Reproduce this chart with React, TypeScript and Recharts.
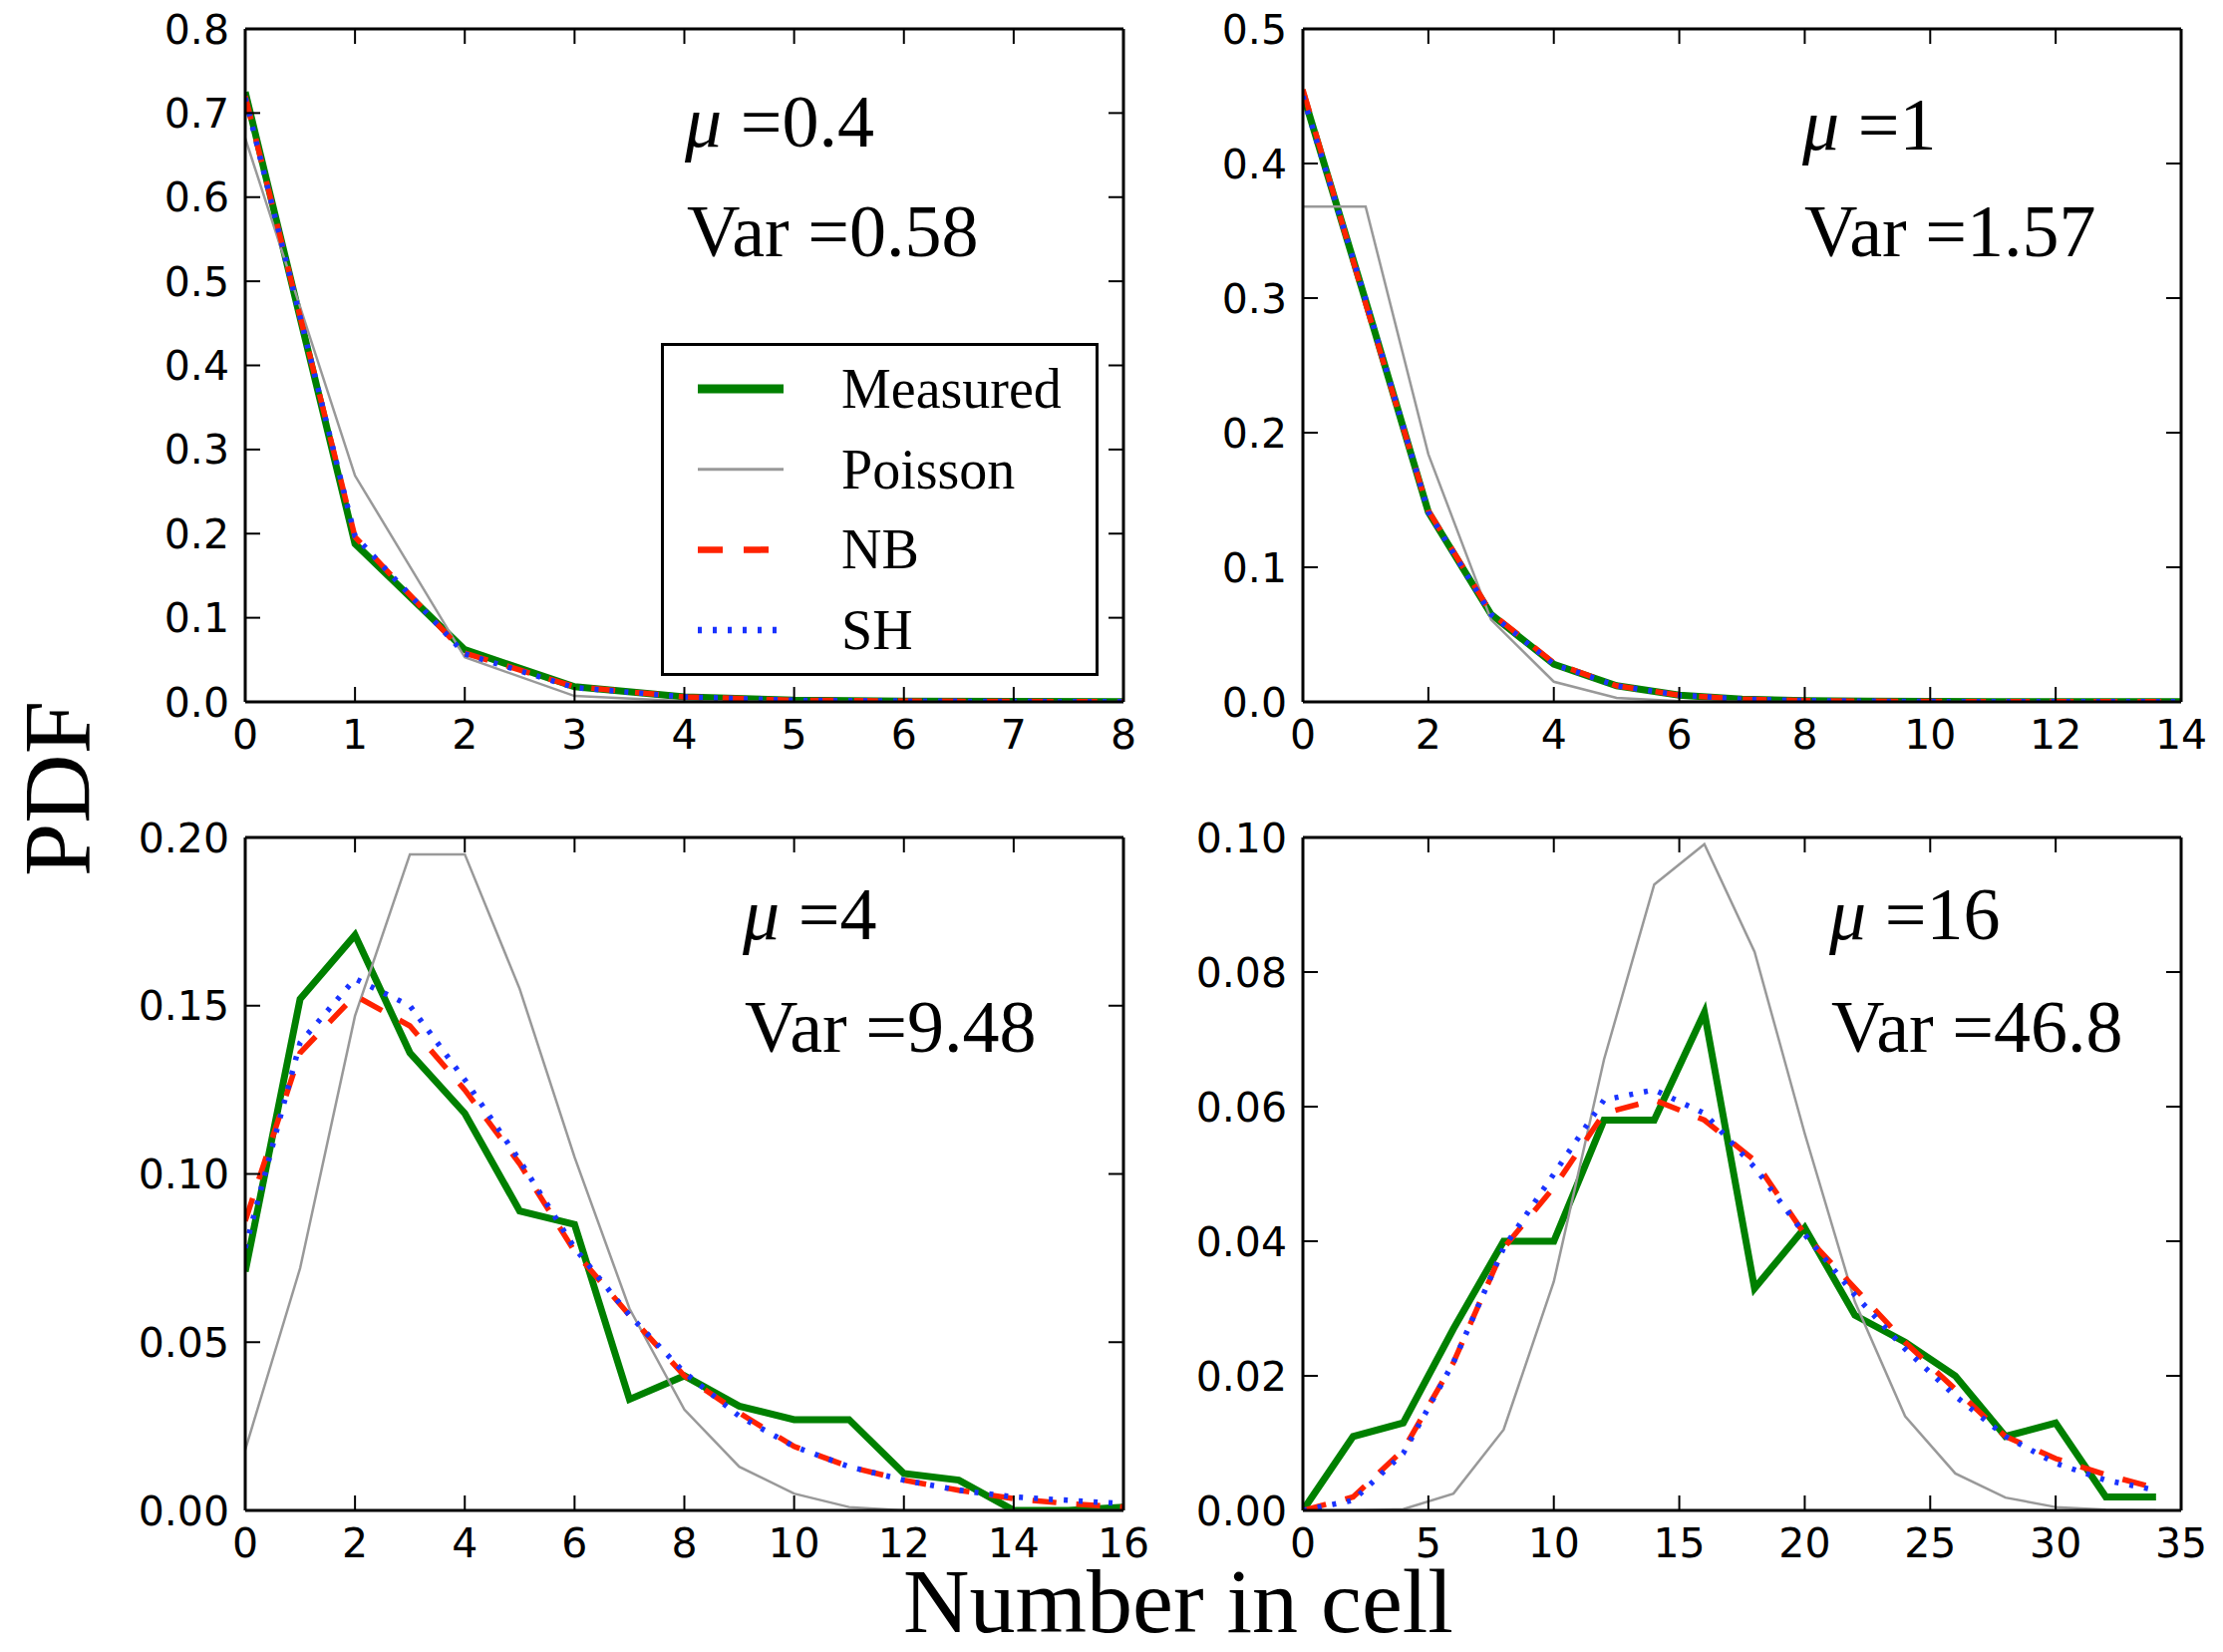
import React from 'react';
import { LineChart, Line, XAxis, YAxis, Legend } from 'recharts';

// ---- data ----

// top left: mu = 0.4
const p1X = [0, 1, 2, 3, 4, 5, 6, 7, 8];
const p1Measured = [0.725, 0.188, 0.062, 0.018, 0.006, 0.002, 0.001, 0.0005, 0.0003];
const p1Poisson = [0.67, 0.269, 0.053, 0.007, 0.001, 0, 0, 0, 0];
const p1NB = [0.72, 0.196, 0.058, 0.018, 0.006, 0.002, 0.001, 0.0005, 0.0003];
const p1SH = [0.718, 0.197, 0.057, 0.017, 0.006, 0.002, 0.001, 0.0005, 0.0003];

// top right: mu = 1
const p2X = [0, 1, 2, 3, 4, 5, 6, 7, 8, 9, 10, 11, 12, 13, 14];
const p2Measured = [0.452, 0.298, 0.141, 0.065, 0.028, 0.012, 0.005, 0.002, 0.001, 0.0005, 0.0003, 0.0002, 0.0001, 0.0001, 0.0001];
const p2Poisson = [0.368, 0.368, 0.184, 0.061, 0.015, 0.003, 0.0005, 0.0001, 0, 0, 0, 0, 0, 0, 0];
const p2NB = [0.455, 0.296, 0.142, 0.066, 0.029, 0.012, 0.005, 0.002, 0.001, 0.0005, 0.0003, 0.0002, 0.0001, 0.0001, 0.0001];
const p2SH = [0.45, 0.299, 0.141, 0.065, 0.028, 0.012, 0.005, 0.002, 0.001, 0.0005, 0.0003, 0.0002, 0.0001, 0.0001, 0.0001];

// bottom left: mu = 4
const p3X = [0, 1, 2, 3, 4, 5, 6, 7, 8, 9, 10, 11, 12, 13, 14, 15, 16];
const p3Measured = [0.071, 0.152, 0.171, 0.136, 0.118, 0.089, 0.085, 0.033, 0.04, 0.031, 0.027, 0.027, 0.011, 0.009, 0, 0, 0.001];
const p3Poisson = [0.018, 0.072, 0.147, 0.195, 0.195, 0.155, 0.105, 0.06, 0.03, 0.013, 0.005, 0.001, 0, 0, 0, 0, 0];
const p3NB = [0.086, 0.136, 0.153, 0.144, 0.125, 0.103, 0.077, 0.058, 0.04, 0.029, 0.019, 0.013, 0.009, 0.006, 0.0035, 0.002, 0.001];
const p3SH = [0.078, 0.139, 0.158, 0.15, 0.128, 0.104, 0.078, 0.058, 0.041, 0.028, 0.019, 0.013, 0.009, 0.006, 0.004, 0.003, 0.002];

// bottom right: mu = 16
const p4X = [0, 2, 4, 6, 8, 10, 12, 14, 16, 18, 20, 22, 24, 26, 28, 30, 32, 34];
const p4Measured = [0, 0.011, 0.013, 0.027, 0.04, 0.04, 0.058, 0.058, 0.074, 0.033, 0.042, 0.029, 0.025, 0.02, 0.011, 0.013, 0.002, 0.002];
const p4Poisson = [0, 0, 0.0002, 0.0025, 0.012, 0.034, 0.067, 0.093, 0.099, 0.083, 0.056, 0.031, 0.014, 0.0055, 0.0019, 0.0005, 0.0001, 0];
const p4NB = [0, 0.002, 0.009, 0.022, 0.039, 0.048, 0.059, 0.061, 0.058, 0.052, 0.041, 0.033, 0.025, 0.018, 0.011, 0.0077, 0.0053, 0.0033];
const p4SH = [0, 0.0015, 0.0085, 0.022, 0.039, 0.05, 0.061, 0.0625, 0.059, 0.051, 0.041, 0.032, 0.024, 0.017, 0.011, 0.007, 0.0045, 0.003];

const p1XTicks = [0, 1, 2, 3, 4, 5, 6, 7, 8];
const p1YTicks = [0, 0.1, 0.2, 0.3, 0.4, 0.5, 0.6, 0.7, 0.8];
const p2XTicks = [0, 2, 4, 6, 8, 10, 12, 14];
const p2YTicks = [0, 0.1, 0.2, 0.3, 0.4, 0.5];
const p3XTicks = [0, 2, 4, 6, 8, 10, 12, 14, 16];
const p3YTicks = [0, 0.05, 0.1, 0.15, 0.2];
const p4XTicks = [0, 5, 10, 15, 20, 25, 30, 35];
const p4YTicks = [0, 0.02, 0.04, 0.06, 0.08, 0.1];

const muLabels = ['0.4', '1', '4', '16'];
const varLabels = ['0.58', '1.57', '9.48', '46.8'];

// ---- styling ----

const SERIES = [
    { key: 'measured', name: 'Measured', color: '#008000', width: 7, dash: undefined },
    { key: 'poisson', name: 'Poisson', color: '#999999', width: 2.5, dash: undefined },
    { key: 'nb', name: 'NB', color: '#ff2200', width: 5.5, dash: '24 20' },
    { key: 'sh', name: 'SH', color: '#1a33ff', width: 5.5, dash: '4 11' },
];

const PLOT_W = 881;
const PLOT_H = 675;
const PAD_L = 200;
const PAD_T = 40;
const PAD_R = 40;
const PAD_B = 80;
const TICK = 15;

const SERIF = '"Liberation Serif", "Times New Roman", serif';
const SANS = '"DejaVu Sans", sans-serif';

const axisLine = { stroke: '#000', strokeWidth: 3 };
const tickLine = { stroke: '#000', strokeWidth: 2 };
const tickText = { fill: '#000', fontSize: 41, fontFamily: SANS };
const noLabel = () => '';

const renderLegend = () => (
    <svg width={439} height={334}>
        <rect x={1.5} y={1.5} width={436} height={331} fill="#fff" stroke="#000" strokeWidth={3} />
        {SERIES.map((s, i) => {
            const cy = 46 + i * 80.7;
            return (
                <g key={s.key}>
                    <line
                        x1={37}
                        x2={123}
                        y1={cy}
                        y2={cy}
                        stroke={s.color}
                        strokeWidth={s.key === 'measured' ? 9 : s.key === 'poisson' ? 3 : 6.5}
                        strokeDasharray={s.key === 'nb' ? '25 21' : s.dash}
                    />
                    <text x={181} y={cy + 19} fontFamily={SERIF} fontSize={56} fill="#000">
                        {s.name}
                    </text>
                </g>
            );
        })}
    </svg>
);

type PanelProps = {
    left: number;
    top: number;
    x: number[];
    measured: number[];
    poisson: number[];
    nb: number[];
    sh: number[];
    xTicks: number[];
    yTicks: number[];
    digits: number;
    legend?: { left: number; top: number };
};

const Panel = ({ left, top, x, measured, poisson, nb, sh, xTicks, yTicks, digits, legend }: PanelProps) => {
    const rows = x.map((v, i) => ({ x: v, measured: measured[i], poisson: poisson[i], nb: nb[i], sh: sh[i] }));
    const xDomain = [xTicks[0], xTicks[xTicks.length - 1]];
    const yDomain = [yTicks[0], yTicks[yTicks.length - 1]];
    const originX = left - PAD_L;
    const originY = top - PAD_T;

    return (
        <div style={{ position: 'absolute', left: originX, top: originY }}>
            <LineChart
                width={PLOT_W + PAD_L + PAD_R}
                height={PLOT_H + PAD_T + PAD_B}
                data={rows}
                margin={{ top: PAD_T - 1, right: PAD_R - 1, bottom: 0, left: 0 }}
            >
                <XAxis
                    dataKey="x"
                    type="number"
                    domain={xDomain}
                    ticks={xTicks}
                    allowDataOverflow
                    interval={0}
                    height={PAD_B}
                    axisLine={axisLine}
                    tickLine={tickLine}
                    tickSize={-TICK}
                    tickMargin={TICK + 18}
                    tick={tickText}
                />
                {/* mirrored axes: top and right spines with inward ticks, no labels */}
                <XAxis
                    xAxisId="top"
                    orientation="top"
                    dataKey="x"
                    type="number"
                    domain={xDomain}
                    ticks={xTicks}
                    allowDataOverflow
                    interval={0}
                    height={1}
                    axisLine={axisLine}
                    tickLine={tickLine}
                    tickSize={-TICK}
                    tick={tickText}
                    tickFormatter={noLabel}
                />
                <YAxis
                    type="number"
                    domain={yDomain}
                    ticks={yTicks}
                    allowDataOverflow
                    interval={0}
                    width={PAD_L}
                    axisLine={axisLine}
                    tickLine={tickLine}
                    tickSize={-TICK}
                    tickMargin={TICK + 16}
                    tick={tickText}
                    tickFormatter={(v: number) => v.toFixed(digits)}
                />
                <YAxis
                    yAxisId="right"
                    orientation="right"
                    type="number"
                    domain={yDomain}
                    ticks={yTicks}
                    allowDataOverflow
                    interval={0}
                    width={1}
                    axisLine={axisLine}
                    tickLine={tickLine}
                    tickSize={-TICK}
                    tick={tickText}
                    tickFormatter={noLabel}
                />
                {SERIES.map((s) => (
                    <Line
                        key={s.key}
                        type="linear"
                        dataKey={s.key}
                        name={s.name}
                        stroke={s.color}
                        strokeWidth={s.width}
                        strokeDasharray={s.dash}
                        dot={false}
                        activeDot={false}
                        isAnimationActive={false}
                    />
                ))}
                {legend && (
                    <Legend
                        layout="vertical"
                        align="center"
                        verticalAlign="middle"
                        content={renderLegend}
                        wrapperStyle={{
                            left: legend.left - originX,
                            top: legend.top - originY,
                            width: 439,
                            height: 334,
                        }}
                    />
                )}
            </LineChart>
        </div>
    );
};

// annotation anchors: [x, mu baseline, var baseline]
const NOTE_POS = [
    [687, 147, 257],
    [1808, 150, 257],
    [745, 942, 1055],
    [1835, 942, 1055],
];

const App = () => {
    return (
        <div style={{ position: 'absolute', left: 0, top: 0, width: 2230, height: 1657, background: '#fff' }}>
            <Panel left={246} top={29} x={p1X} measured={p1Measured} poisson={p1Poisson} nb={p1NB} sh={p1SH}
                xTicks={p1XTicks} yTicks={p1YTicks} digits={1} legend={{ left: 663, top: 344 }} />
            <Panel left={1307} top={29} x={p2X} measured={p2Measured} poisson={p2Poisson} nb={p2NB} sh={p2SH}
                xTicks={p2XTicks} yTicks={p2YTicks} digits={1} />
            <Panel left={246} top={840} x={p3X} measured={p3Measured} poisson={p3Poisson} nb={p3NB} sh={p3SH}
                xTicks={p3XTicks} yTicks={p3YTicks} digits={2} />
            <Panel left={1307} top={840} x={p4X} measured={p4Measured} poisson={p4Poisson} nb={p4NB} sh={p4SH}
                xTicks={p4XTicks} yTicks={p4YTicks} digits={2} />

            {/* shared labels and per-panel notes */}
            <svg width={2230} height={1657} style={{ position: 'absolute', left: 0, top: 0, pointerEvents: 'none' }}>
                <text transform="translate(90,791) rotate(-90)" textAnchor="middle" fontFamily={SERIF} fontSize={96} fill="#000">
                    PDF
                </text>
                <text x={1182} y={1637} textAnchor="middle" fontFamily={SERIF} fontSize={92} fill="#000">
                    Number in cell
                </text>
                {NOTE_POS.map(([nx, muY, varY], i) => (
                    <g key={i} fontFamily={SERIF} fontSize={74} fill="#000">
                        <text x={nx} y={muY}>
                            <tspan fontStyle="italic">μ</tspan> ={muLabels[i]}
                        </text>
                        <text x={nx + 2} y={varY}>
                            Var ={varLabels[i]}
                        </text>
                    </g>
                ))}
            </svg>
        </div>
    );
};

export default App;
